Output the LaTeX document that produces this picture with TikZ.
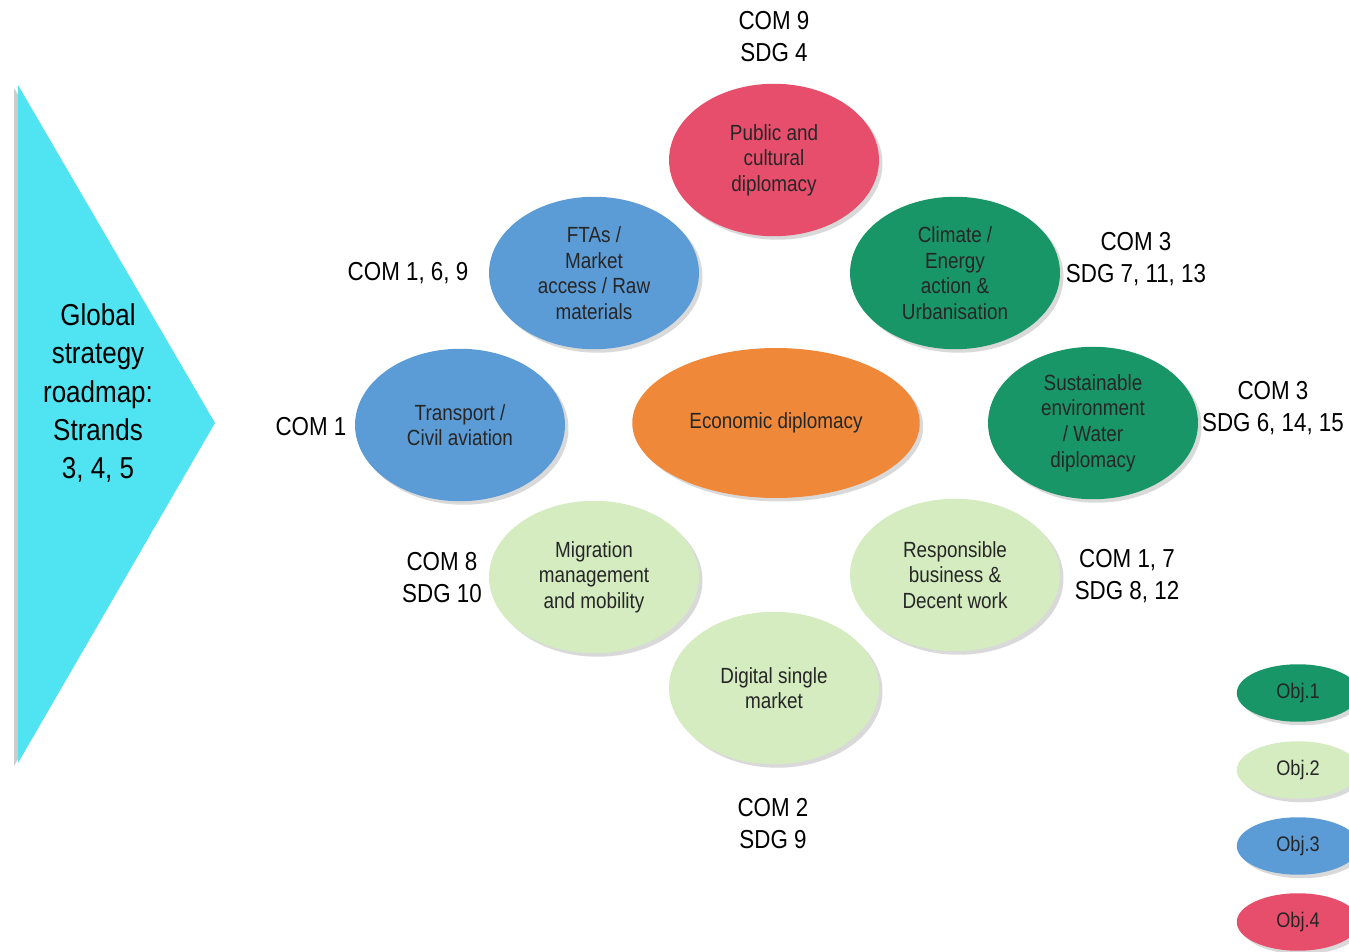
\documentclass[tikz,border=0pt]{standalone}
\usepackage{fontspec}
\setmainfont{Liberation Sans}[FakeStretch=0.86]
\usepackage{tikz}
\usetikzlibrary{shapes.geometric, shadows, positioning}
\definecolor{objgreen}{RGB}{24,150,104}
\definecolor{objlight}{RGB}{212,236,192}
\definecolor{objblue}{RGB}{92,156,214}
\definecolor{objred}{RGB}{230,78,108}
\definecolor{econorange}{RGB}{240,136,58}
\definecolor{roadcyan}{RGB}{80,228,242}

\begin{document}
\begin{tikzpicture}[
    x=0.02cm, y=-0.02cm,
    topic/.style={ellipse, minimum width=4.2cm, minimum height=3.05cm, inner sep=0pt, align=center, text=black!85, font=\fontsize{12.5}{14.6}\selectfont, drop shadow={opacity=0.3, shadow xshift=2pt, shadow yshift=-2pt}},
    objone/.style={topic, fill=objgreen},
    objtwo/.style={topic, fill=objlight},
    objthree/.style={topic, fill=objblue},
    objfour/.style={topic, fill=objred},
    legendbox/.style={minimum width=2.45cm, minimum height=1.15cm, font=\fontsize{12}{14}\selectfont},
    tag/.style={align=center, font=\fontsize{14.8}{18.2}\selectfont}
]
\useasboundingbox (0,0) rectangle (1349,952);

% Roadmap arrow
\fill[gray!40] (14,88) -- (211,426) -- (14,766) -- cycle;
\fill[roadcyan] (18,85) -- (215,423) -- (18,763) -- cycle;
\node[align=center, font=\fontsize{17.2}{21.8}\selectfont] (roadmap) at (98,393) {Global\\strategy\\roadmap:\\Strands\\3, 4, 5};

% Strands
\node[objfour] (public) at (774,160) {Public and\\cultural\\diplomacy};
\node[objthree] (ftas) at (594,273) {FTAs /\\Market\\access / Raw\\materials};
\node[objone] (climate) at (955,273) {Climate /\\Energy\\action \&\\Urbanisation};
\node[objthree] (transport) at (460,425) {Transport /\\Civil aviation};
\node[topic, fill=econorange, minimum width=5.75cm, minimum height=3.0cm] (econ) at (776,423) {Economic diplomacy};
\node[objone] (water) at (1093,423) {Sustainable\\environment\\/ Water\\diplomacy};
\node[objtwo] (migration) at (594,577) {Migration\\management\\and mobility};
\node[objtwo] (business) at (955,575) {Responsible\\business \&\\Decent work};
\node[objtwo] (digital) at (774,688) {Digital single\\market};

% COM / SDG tags
\node[tag] (tagpublic) at (774,37) {COM 9\\SDG 4};
\node[tag] (tagftas) at (408,273) {COM 1, 6, 9};
\node[tag] (tagclimate) at (1136,259) {COM 3\\SDG 7, 11, 13};
\node[tag] (tagtransport) at (311,427) {COM 1};
\node[tag] (tagwater) at (1273,408) {COM 3\\SDG 6, 14, 15};
\node[tag] (tagmigration) at (442,578) {COM 8\\SDG 10};
\node[tag] (tagbusiness) at (1127,576) {COM 1, 7\\SDG 8, 12};
\node[tag] (tagdigital) at (773,824) {COM 2\\SDG 9};

% Legend
\node[objone, legendbox] (legone) at (1298,693) {Obj.1};
\node[objtwo, legendbox] (legtwo) at (1298,770) {Obj.2};
\node[objthree, legendbox] (legthree) at (1298,846) {Obj.3};
\node[objfour, legendbox] (legfour) at (1298,922) {Obj.4};

\end{tikzpicture}
\end{document}
